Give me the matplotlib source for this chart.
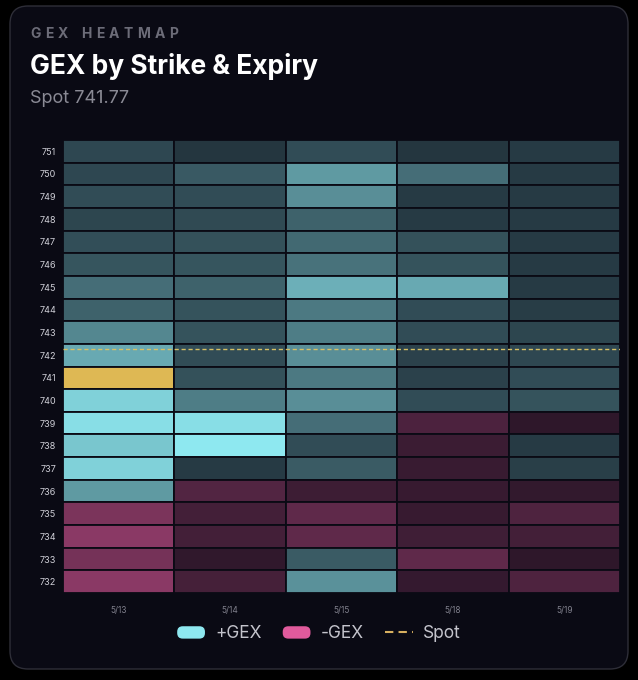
import numpy as np
import matplotlib
matplotlib.use("Agg")
import matplotlib.pyplot as plt
from matplotlib.patches import FancyBboxPatch, Patch
from matplotlib.lines import Line2D
from matplotlib.legend_handler import HandlerPatch
from matplotlib.textpath import TextPath
from matplotlib.font_manager import FontProperties

plt.rcParams["font.family"] = ["Inter", "DejaVu Sans"]

# --- data (GEX intensity, rows top->bottom, king node is the largest |GEX|) ---
spot = 741.77
strikes = list(range(751, 731, -1))
expiries = ["5/13", "5/14", "5/15", "5/18", "5/19"]
gex_513 = [28, 28, 30, 27, 31, 34, 45, 40, 57, 72, 104, 90, 96, 85, 90, 65, -53, -60, -50, -60]
gex_514 = [20, 36, 30, 29, 32, 34, 40, 33, 33, 30, 32, 52, 96, 100, 22, -34, -27, -27, -18, -28]
gex_515 = [30, 65, 60, 40, 43, 47, 75, 50, 52, 60, 50, 60, 45, 30, 37, -24, -40, -40, 37, 61]
gex_518 = [20, 45, 22, 22, 32, 33, 72, 30, 30, 25, 25, 30, -31, -23, -22, -21, -21, -25, -40, -20]
gex_519 = [22, 22, 22, 22, 22, 22, 22, 23, 27, 28, 30, 33, -17, 22, 24, -19, -32, -27, -17, -32]
gex = np.array([gex_513, gex_514, gex_515, gex_518, gex_519]).T  # (strike, expiry)

BG = "#000000"
CARD = "#0a0a14"
POS = "#8ee8f0"
NEG = "#e05a9c"
KING = "#deb854"
SPOT_C = "#d8c064"

W, H = 638, 680
fig = plt.figure(figsize=(W / 100, H / 100), dpi=100, facecolor=BG)

# card
card = FancyBboxPatch((10 / 100, 11 / 100), 618 / 100, 663 / 100,
                      boxstyle="round,pad=0,rounding_size=0.18",
                      transform=fig.dpi_scale_trans, facecolor=CARD,
                      edgecolor="#2e2e38", linewidth=1.0, zorder=-5)
fig.patches.append(card)


def spaced_text(x_px, y_px, s, size, tracking_px, **kw):
    fp = FontProperties(family="Inter", weight="bold", size=size)
    x = x_px
    for ch in s:
        if ch != " ":
            fig.text(x / W, 1 - y_px / H, ch, fontproperties=fp, va="baseline", **kw)
            adv = TextPath((0, 0), ch, size=size, prop=fp).get_extents().x1
        else:
            adv = size * 0.3
        x += adv * 100 / 72 + tracking_px


spaced_text(30, 38, "GEX HEATMAP", 10, 5.0, color="#6c6c78")
fig.text(30 / W, 1 - 74 / H, "GEX by Strike & Expiry", fontsize=19, fontweight="bold",
         color="white", va="baseline")
fig.text(30 / W, 1 - 103 / H, f"Spot {spot}", fontsize=13, color="#8a8a95", va="baseline")

# heatmap
ax = fig.add_axes([63 / W, 1 - 593 / H, (620 - 63) / W, (593 - 140) / H])
ax.set_facecolor(CARD)
king = np.unravel_index(np.argmax(np.abs(gex)), gex.shape)
vmax = 100.0
for j, exp in enumerate(expiries):
    cols = []
    for i in range(len(strikes)):
        v = gex[i, j]
        if (i, j) == king:
            cols.append(matplotlib.colors.to_rgba(KING))
        else:
            a = min(abs(v) / vmax, 1.0)
            cols.append(matplotlib.colors.to_rgba(POS if v >= 0 else NEG, a))
    ax.barh(strikes, 1, left=j - 0.5, height=1, color=cols,
            edgecolor="#0a0a14", linewidth=1.3)

# spot line sits half a row above the strike value, as in the source chart
ax.axhline(spot + 0.5, color=SPOT_C, linestyle=(0, (3, 2)), linewidth=1.0)

ax.set_xlim(-0.5, len(expiries) - 0.5)
ax.set_ylim(min(strikes) - 0.5, max(strikes) + 0.5)
ax.set_yticks(strikes)
ax.set_yticklabels([str(s) for s in strikes])
ax.set_xticks(range(len(expiries)))
ax.set_xticklabels(expiries)
ax.tick_params(axis="y", length=0, pad=5, labelsize=6.5, labelcolor="#d0d0d8")
ax.tick_params(axis="x", length=0, pad=9, labelsize=6, labelcolor="#80808c")
for sp in ax.spines.values():
    sp.set_visible(False)


def rounded(legend, orig_handle, xdescent, ydescent, width, height, fontsize):
    return FancyBboxPatch((-xdescent, -ydescent), width, height,
                          boxstyle="round,pad=0,rounding_size=4")


handles = [Patch(facecolor=POS, edgecolor="none"),
           Patch(facecolor=NEG, edgecolor="none"),
           Line2D([0], [0], color="#d8b060", linestyle=(0, (4, 2.5)), linewidth=1.5)]
fig.legend(handles, ["+GEX", "-GEX", "Spot"], loc="center",
           bbox_to_anchor=(0.5, 1 - 634 / H), ncol=3, frameon=False,
           fontsize=12.5, labelcolor="#c4c4cc", handlelength=1.6, handleheight=0.72,
           handletextpad=0.6, columnspacing=1.2,
           handler_map={Patch: HandlerPatch(patch_func=rounded)})

fig.savefig("out.png", dpi=100, facecolor=BG)
